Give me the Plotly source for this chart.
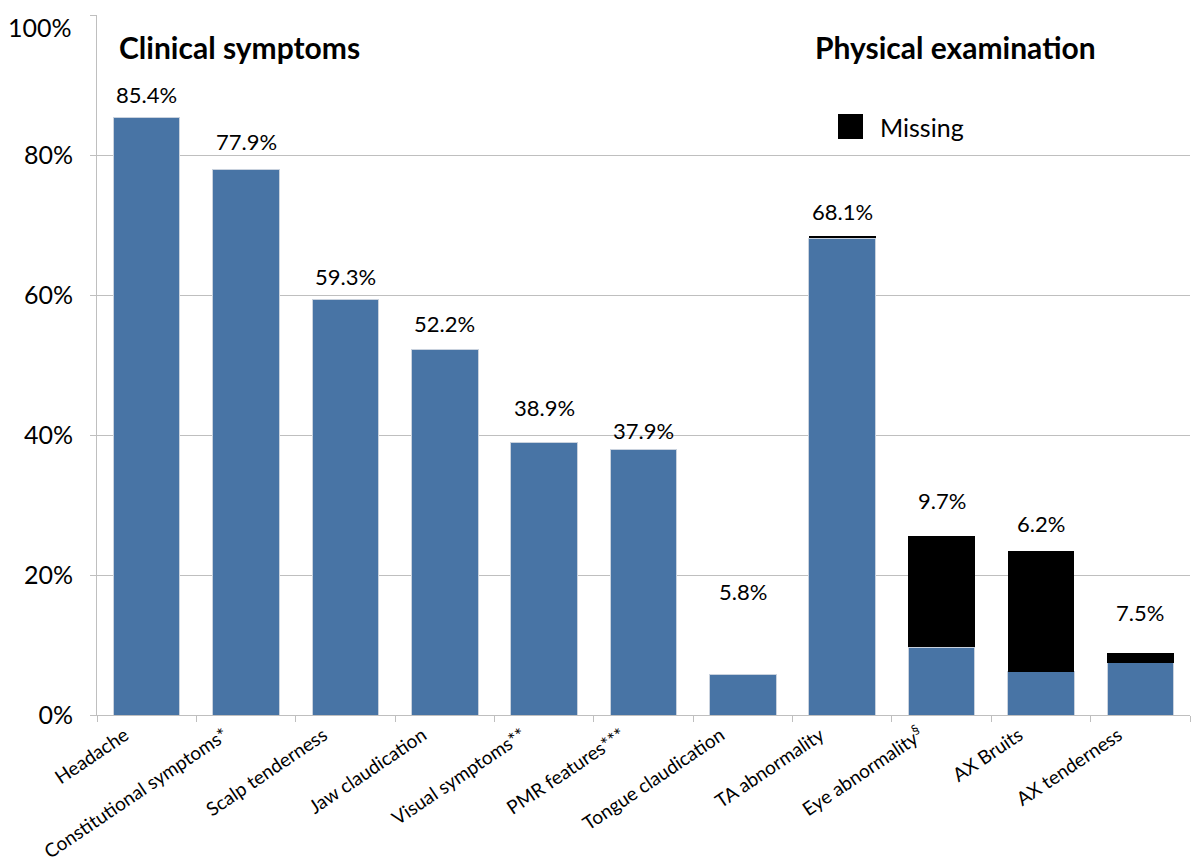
import plotly.graph_objects as go

categories = ["Headache", "Constitutional symptoms*", "Scalp tenderness", "Jaw claudication",
              "Visual symptoms**", "PMR features***", "Tongue claudication", "TA abnormality",
              "Eye abnormality<sup>§</sup>", "AX Bruits", "AX tenderness"]
present = [85.4, 77.9, 59.3, 52.2, 38.9, 37.9, 5.8, 68.1, 9.7, 6.2, 7.5]
missing = [0, 0, 0, 0, 0, 0, 0, 0.4, 15.9, 17.2, 1.3]
value_labels = ["85.4%", "77.9%", "59.3%", "52.2%", "38.9%", "37.9%", "5.8%", "68.1%", "9.7%", "6.2%", "7.5%"]
label_heights = [88.6, 82.0, 62.6, 56.0, 43.9, 40.6, 17.7, 71.9, 30.7, 27.4, 14.7]
y_ticks = [0, 20, 40, 60, 80, 100]
y_ticktext = ["0%", "20%", "40%", "60%", "80%", ""]

FONT = "Lato"
L, R, T, B = 97, 10, 15, 144
PW, PH = 1200 - L - R, 859 - T - B


def px(x):
    return (x - L) / PW


def py(y):
    return (859 - B - y) / PH


fig = go.Figure()
fig.add_trace(go.Bar(x=categories, y=present,
                     marker=dict(color="#4874a5", line=dict(width=1, color="#c9d2de")),
                     showlegend=False, name="Present"))
fig.add_trace(go.Bar(x=categories, y=missing, marker=dict(color="#000000", line=dict(width=0)),
                     name="Missing", showlegend=False))

for c, t, h in zip(categories, value_labels, label_heights):
    fig.add_annotation(x=c, y=h, text=t, showarrow=False, xref="x", yref="y",
                       font=dict(family=FONT, size=22, color="#000"))

# top tick label (drawn lower than its gridline, as in the original)
fig.add_annotation(x=px(74), y=py(27), xref="paper", yref="paper", text="100%",
                   xanchor="right", yanchor="middle", showarrow=False,
                   font=dict(family=FONT, size=25, color="#000"))

fig.add_annotation(x=px(117), y=py(47), xref="paper", yref="paper", text="<b>Clinical symptoms</b>",
                   xanchor="left", yanchor="middle", showarrow=False,
                   font=dict(family=FONT, size=30, color="#000"))
fig.add_annotation(x=px(813), y=py(47), xref="paper", yref="paper",
                   text="<b>Physical examination</b>", xanchor="left", yanchor="middle",
                   showarrow=False, font=dict(family=FONT, size=30, color="#000"))

# legend entry for "Missing"
fig.add_shape(type="rect", xref="paper", yref="paper", x0=px(838), x1=px(863), y0=py(139), y1=py(114),
              fillcolor="#000", line=dict(width=0))
fig.add_annotation(x=px(878), y=py(127), xref="paper", yref="paper", text="Missing",
                   xanchor="left", yanchor="middle", showarrow=False,
                   font=dict(family=FONT, size=25, color="#000"))

fig.update_layout(
    barmode="stack", bargap=0.33,
    width=1200, height=859, autosize=False,
    margin=dict(l=L, r=R, t=T, b=B),
    plot_bgcolor="white", paper_bgcolor="white",
    font=dict(family=FONT, color="#000"),
    showlegend=False,
    xaxis=dict(tickangle=-34, tickfont=dict(family=FONT, size=19), showline=True,
               linecolor="#bfbfbf", linewidth=1, ticks="outside", tickson="boundaries",
               ticklen=6, tickcolor="#bfbfbf", showgrid=False, automargin=False,
               ticklabelshift=-22, ticklabelstandoff=1),
    yaxis=dict(range=[0, 100], tickvals=y_ticks, ticktext=y_ticktext, tickfont=dict(family=FONT, size=25),
               showline=True, linecolor="#bfbfbf", linewidth=1, ticks="outside", ticklen=6,
               tickcolor="#bfbfbf", gridcolor="#bfbfbf", gridwidth=1, zeroline=False,
               automargin=False, ticklabelstandoff=12),
)

fig.write_html("out.html", post_script="document.body.style.margin='0';",
               config={"displayModeBar": False})
